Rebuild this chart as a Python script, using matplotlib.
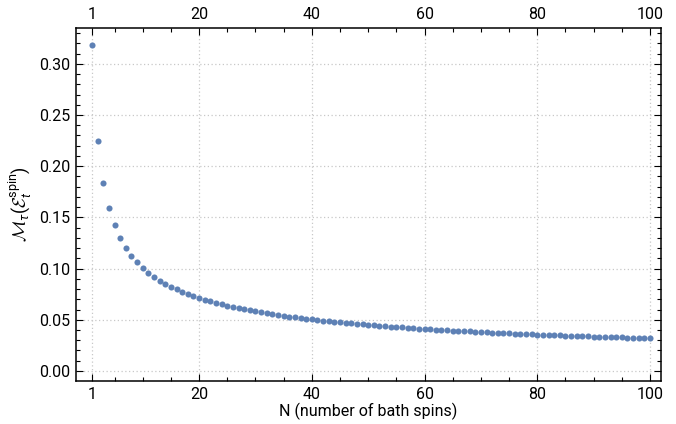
import matplotlib
matplotlib.use("Agg")
import matplotlib.pyplot as plt
import matplotlib.ticker as mticker

plt.rcParams['font.family'] = ['Roboto', 'DejaVu Sans']
plt.rcParams['mathtext.fontset'] = 'custom'
plt.rcParams['mathtext.rm'] = 'Roboto'
plt.rcParams['mathtext.it'] = 'Roboto:italic'
plt.rcParams['mathtext.cal'] = 'cmsy10'

# number of bath spins
n_spins = list(range(1, 101))
# measure value
measure = [
    0.3183, 0.2251, 0.1838, 0.1592, 0.1424, 0.1300, 0.1203, 0.1125, 0.1061, 0.1007,
    0.0960, 0.0919, 0.0883, 0.0851, 0.0822, 0.0796, 0.0772, 0.0750, 0.0730, 0.0712,
    0.0695, 0.0679, 0.0664, 0.0650, 0.0637, 0.0624, 0.0613, 0.0602, 0.0591, 0.0581,
    0.0572, 0.0563, 0.0554, 0.0546, 0.0538, 0.0531, 0.0523, 0.0516, 0.0510, 0.0503,
    0.0497, 0.0491, 0.0485, 0.0480, 0.0474, 0.0469, 0.0464, 0.0459, 0.0455, 0.0450,
    0.0446, 0.0441, 0.0437, 0.0433, 0.0429, 0.0425, 0.0422, 0.0418, 0.0414, 0.0411,
    0.0408, 0.0404, 0.0401, 0.0398, 0.0395, 0.0392, 0.0389, 0.0386, 0.0383, 0.0380,
    0.0378, 0.0375, 0.0373, 0.0370, 0.0368, 0.0365, 0.0363, 0.0360, 0.0358, 0.0356,
    0.0354, 0.0352, 0.0349, 0.0347, 0.0345, 0.0343, 0.0341, 0.0339, 0.0337, 0.0336,
    0.0334, 0.0332, 0.0330, 0.0328, 0.0327, 0.0325, 0.0323, 0.0322, 0.0320, 0.0318,
]
xticks = [1, 20, 40, 60, 80, 100]
yticks = [0.00, 0.05, 0.10, 0.15, 0.20, 0.25, 0.30]

fig = plt.figure(figsize=(6.76, 4.24), dpi=100)
ax = fig.add_axes([76 / 676, 1 - 381 / 424, 585 / 676, 353 / 424])

ax.plot(n_spins, measure, 'o', color='#5E81B5', markersize=4.4, markeredgewidth=0)

ax.set_xlim(-1.84, 101.95)
ax.set_ylim(-0.0098, 0.335)
ax.set_xticks(xticks)
ax.set_yticks(yticks)
ax.set_yticklabels([f"{v:.2f}" for v in yticks])
ax.xaxis.set_minor_locator(mticker.FixedLocator([5, 10, 15, 25, 30, 35, 45, 50, 55, 65, 70, 75, 85, 90, 95]))
ax.yaxis.set_minor_locator(mticker.MultipleLocator(0.01))

ax.grid(True, which='major', color='#c8c8c8', linestyle=(0, (1, 2)), linewidth=0.9)
ax.tick_params(which='both', direction='in', top=True, right=True, labeltop=True,
               labelsize=11.5, colors='black', width=0.8)
ax.tick_params(which='major', length=5, pad=4)
ax.tick_params(which='minor', length=3)
for s in ax.spines.values():
    s.set_linewidth(1.1)

ax.set_xlabel("N (number of bath spins)", fontsize=11.5, labelpad=1)
ax.set_ylabel(r"$\mathcal{M}_\tau(\mathcal{E}_t^{\mathrm{spin}})$", fontsize=13, labelpad=4)

fig.savefig("out.png", dpi=100)
